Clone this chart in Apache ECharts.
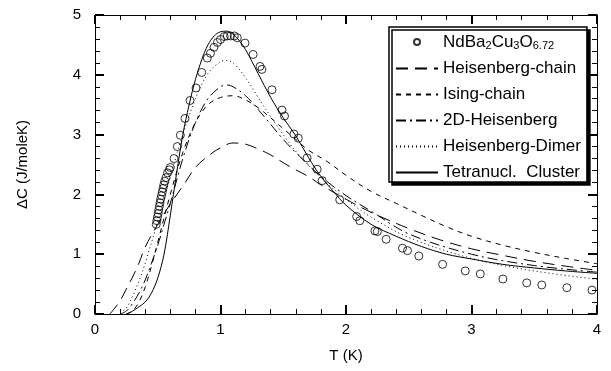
<!DOCTYPE html>
<html><head><meta charset="utf-8">
<script src="https://cdn.jsdelivr.net/npm/echarts@6/dist/echarts.min.js"></script>
<style>html,body{margin:0;padding:0;background:#fff}#c{width:611px;height:371px}</style>
</head><body><div id="c"></div>
<script>
// Observed data NdBa2Cu3O6.72
const obsT = [0.488,0.493,0.498,0.503,0.508,0.513,0.518,0.523,0.530,0.536,0.542,0.548,0.556,0.566,0.578,0.592,
  0.60,0.63,0.656,0.68,0.717,0.757,0.805,0.85,0.895,0.92,0.948,0.975,1.00,1.03,1.054,1.08,1.11,1.134,
  1.195,1.26,1.315,1.33,1.41,1.49,1.51,1.585,1.62,1.69,1.77,1.81,1.95,2.085,2.11,2.23,2.25,2.32,
  2.45,2.49,2.58,2.77,2.95,3.07,3.25,3.44,3.56,3.76,3.96];
const obsC = [1.50,1.56,1.62,1.68,1.74,1.80,1.86,1.92,1.98,2.04,2.10,2.16,2.22,2.28,2.36,2.41,
  2.45,2.60,2.80,2.99,3.27,3.57,3.78,4.04,4.28,4.36,4.46,4.54,4.59,4.64,4.65,4.65,4.65,4.62,
  4.53,4.34,4.14,4.09,3.75,3.41,3.31,3.01,2.94,2.61,2.42,2.23,1.91,1.63,1.56,1.39,1.38,1.25,
  1.10,1.06,0.97,0.83,0.72,0.67,0.585,0.52,0.485,0.44,0.40];

// Heisenberg-chain
const hcT = [0.12,0.15,0.2,0.25,0.3,0.35,0.4,0.5,0.6,0.7,0.8,0.9,1.0,1.1,1.2,1.3,1.4,1.5,1.6,1.7,1.8,2.0,2.2,2.5,2.75,3.0,3.25,3.5,3.75,4.0];
const hcC = [0,0.08,0.22,0.42,0.62,0.85,1.12,1.5,1.84,2.14,2.45,2.64,2.78,2.86,2.84,2.76,2.66,2.53,2.41,2.3,2.16,1.92,1.7,1.43,1.24,1.09,0.98,0.88,0.8,0.73];
// Ising-chain
const isT = [0.25,0.3,0.35,0.4,0.45,0.5,0.6,0.7,0.8,0.9,1.0,1.1,1.2,1.3,1.4,1.5,1.6,1.7,1.85,2.0,2.2,2.4,2.6,2.8,3.0,3.25,3.5,3.75,4.0];
const isC = [0,0.05,0.2,0.45,0.8,1.2,2.0,2.7,3.2,3.5,3.62,3.65,3.58,3.45,3.28,3.1,2.92,2.74,2.55,2.32,2.05,1.85,1.65,1.46,1.3,1.15,1.03,0.93,0.84];
// 2D-Heisenberg
const h2T = [0.2,0.25,0.3,0.35,0.4,0.45,0.5,0.55,0.6,0.7,0.8,0.9,1.0,1.05,1.1,1.2,1.3,1.4,1.5,1.6,1.8,2.0,2.2,2.5,3.0,3.5,4.0];
const h2C = [0,0.05,0.18,0.35,0.57,0.85,1.15,1.5,1.85,2.6,3.2,3.6,3.8,3.83,3.8,3.65,3.42,3.17,2.92,2.7,2.3,1.98,1.72,1.34,1.0,0.81,0.7];
// Heisenberg-Dimer
const hdT = [0.2,0.25,0.3,0.35,0.4,0.5,0.6,0.7,0.8,0.9,1.0,1.05,1.1,1.2,1.3,1.4,1.5,1.6,1.8,2.0,2.2,2.5,3.0,3.5,4.0];
const hdC = [0.02,0.1,0.3,0.55,0.85,1.55,2.3,3.0,3.6,4.02,4.22,4.24,4.2,3.95,3.62,3.3,3.0,2.72,2.28,1.92,1.62,1.28,0.93,0.72,0.58];
// Tetranuclear cluster
const tcT = [0.25,0.3,0.35,0.4,0.45,0.5,0.55,0.6,0.65,0.7,0.75,0.8,0.85,0.9,0.95,1.0,1.05,1.1,1.15,1.2,1.3,1.4,1.5,1.6,1.7,1.8,1.9,2.0,2.2,2.4,2.6,2.8,3.0,3.25,3.5,3.75,4.0];
const tcC = [0,0.05,0.12,0.2,0.35,0.6,1.0,1.65,2.35,3.0,3.5,3.92,4.25,4.5,4.65,4.72,4.73,4.68,4.57,4.42,4.02,3.62,3.28,2.98,2.62,2.3,2.05,1.82,1.5,1.3,1.13,1.0,0.92,0.83,0.77,0.72,0.68];

const names = ['NdBa2Cu3O6.72','Heisenberg-chain','Ising-chain','2D-Heisenberg','Heisenberg-Dimer','Tetranucl.  Cluster'];
const xTicks = [0,1,2,3,4];
const yTicks = [0,1,2,3,4,5];
const zip = (a,b) => a.map((v,i)=>[v,b[i]]);
const font = 'Liberation Sans, Arial, Helvetica, sans-serif';

function lineSeries(name, t, c, type) {
  return {name, type:'line', data: zip(t,c), smooth: 0.35, showSymbol:false, symbol:'none',
    lineStyle:{color:'#000', width:1, type}, itemStyle:{color:'#000'}, z:3};
}
function makeAxis(ticks, position, showLabel, extra) {
  const a = {
    type:'value', min:ticks[0], max:ticks[ticks.length-1], splitNumber:ticks.length-1, position,
    splitLine:{show:false},
    axisLine:{show:true, onZero:false, lineStyle:{color:'#000'}},
    axisTick:{show:true, inside:true, length:9, lineStyle:{color:'#000', width:2}},
    minorTick:{show:true, splitNumber:5, length:5, lineStyle:{color:'#000'}},
    axisLabel:{show:showLabel, fontSize:15, color:'#000', fontFamily:font,
      margin: (position==='left') ? 14 : 8}
  };
  return Object.assign(a, extra || {});
}
const chart = echarts.init(document.getElementById('c'), null, {renderer:'canvas'});
chart.setOption({
  animation:false,
  backgroundColor:'#fff',
  grid:{left:95, right:14, top:15, bottom:57},
  xAxis:[
    makeAxis(xTicks, 'bottom', true, {
      name:'T (K)', nameLocation:'middle', nameGap:34,
      nameTextStyle:{fontSize:15, color:'#000', fontFamily:font}}),
    makeAxis(xTicks, 'top', false)
  ],
  yAxis:[
    makeAxis(yTicks, 'left', true, {
      name:'ΔC (J/moleK)', nameLocation:'middle', nameGap:65, nameRotate:90,
      nameTextStyle:{fontSize:15, color:'#000', fontFamily:font}}),
    makeAxis(yTicks, 'right', false)
  ],
  legend:{
    orient:'vertical', left:389, top:27,
    backgroundColor:'#fff', borderColor:'#000', borderWidth:1.5,
    shadowColor:'#000', shadowOffsetX:3, shadowOffsetY:3, shadowBlur:0,
    padding:[4,6,1,6], itemGap:9, itemWidth:42, itemHeight:6,
    data: names.map((n,i)=> i===0 ? {name:n} : {name:n, itemStyle:{color:'rgba(0,0,0,0)', borderWidth:0, opacity:0}}),
    formatter: function(n){
      if (n === names[0]) return '{b|NdBa}{s|2}{b|Cu}{s|3}{b|O}{s|6.72}';
      return '{b|' + n + '}';
    },
    textStyle:{fontSize:17, color:'#000', fontFamily:font,
      rich:{
        b:{fontSize:17, fontFamily:font, color:'#000', lineHeight:18},
        s:{fontSize:11, fontFamily:font, color:'#000', lineHeight:18, verticalAlign:'bottom', padding:[9,0,0,0]}
      }}
  },
  series:[
    {name:names[0], type:'scatter', data: zip(obsT, obsC), symbol:'circle', symbolSize:8,
      itemStyle:{color:'rgba(255,255,255,0)', borderColor:'#000', borderWidth:1}, z:5},
    lineSeries(names[1], hcT, hcC, [12,7]),
    lineSeries(names[2], isT, isC, [5,5]),
    lineSeries(names[3], h2T, h2C, [10,4,2,4]),
    lineSeries(names[4], hdT, hdC, [1,3]),
    lineSeries(names[5], tcT, tcC, 'solid')
  ]
});
</script></body></html>
